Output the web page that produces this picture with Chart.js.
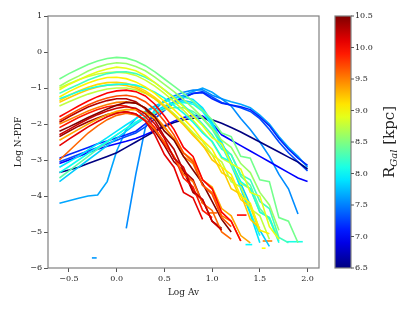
<!DOCTYPE html>
<html>
<head>
<meta charset="utf-8">
<script src="https://cdn.jsdelivr.net/npm/chart.js@4.4.1/dist/chart.umd.min.js"></script>
<style>
  html, body { margin: 0; padding: 0; background: #fff; }
  #wrap { width: 407px; height: 312px; }
</style>
</head>
<body>
<div id="wrap"><canvas id="pdfChart" width="407" height="312"></canvas></div>
<script>
// Log Av grid shared by all the N-PDFs
const logAv = [-0.6, -0.5, -0.4, -0.3, -0.2, -0.1, 0.0, 0.1, 0.2, 0.3, 0.4, 0.5, 0.6,
               0.7, 0.8, 0.9, 1.0, 1.1, 1.2, 1.3, 1.4, 1.5, 1.6, 1.7, 1.8, 1.9, 2.0];

// upper green / yellow clouds
const pdf845 = [-0.75,-0.6,-0.47,-0.35,-0.25,-0.18,-0.15,-0.17,-0.25,-0.38,-0.55,-0.75,-0.95,-1.15,-1.38,-1.62,-1.88,-2.25,-2.35,-2.9,-2.95,-3.55,-3.6,-4.6,-4.7,-5.3];
const pdf860 = [-0.95,-0.8,-0.67,-0.53,-0.42,-0.34,-0.3,-0.32,-0.4,-0.52,-0.7,-0.9,-1.1,-1.32,-1.56,-1.82,-2.12,-2.45,-2.65,-3.1,-3.35,-3.9,-4.25,-4.95];
const pdf890 = [-1.05,-0.9,-0.78,-0.65,-0.55,-0.47,-0.42,-0.45,-0.52,-0.66,-0.85,-1.05,-1.28,-1.52,-1.78,-2.05,-2.38,-2.55,-3.1,-3.25,-3.9,-4.0,-4.85,-5.2];
const pdf825 = [-1.15,-1.02,-0.9,-0.78,-0.68,-0.6,-0.56,-0.55,-0.6,-0.7,-0.85,-1.05,-1.25,-1.48,-1.72,-2.0,-2.3,-2.7,-2.85,-3.4,-3.55,-4.15,-4.35,-5.15,-5.3];
const pdf905 = [-1.25,-1.1,-0.97,-0.86,-0.77,-0.71,-0.7,-0.74,-0.83,-0.97,-1.15,-1.37,-1.6,-1.85,-2.12,-2.45,-2.7,-3.2,-3.4,-4.0,-4.2,-4.95,-5.05];
const pdf810 = [-1.3,-1.2,-1.1,-1.02,-0.96,-0.92,-0.9,-0.89,-0.92,-1.0,-1.12,-1.28,-1.48,-1.7,-1.95,-2.25,-2.48,-2.92,-3.05,-3.6,-3.8,-4.45,-4.6,-5.3];
const pdf920 = [-1.4,-1.27,-1.15,-1.05,-0.97,-0.92,-0.9,-0.93,-1.0,-1.13,-1.3,-1.52,-1.76,-2.02,-2.32,-2.58,-3.0,-3.2,-3.8,-3.95,-4.65,-4.9];
const pdf875 = [-1.5,-1.38,-1.27,-1.17,-1.09,-1.03,-1.0,-1.0,-1.05,-1.15,-1.3,-1.5,-1.72,-1.96,-2.24,-2.48,-2.85,-3.05,-3.6,-3.75,-4.35,-4.55,-5.2];
const pdf880 = [-1.0,-0.88,-0.77,-0.68,-0.61,-0.57,-0.56,-0.58,-0.65,-0.78,-0.95,-1.15,-1.38,-1.62,-1.9,-2.2,-2.5,-2.95,-3.1,-3.65,-3.8,-4.45,-4.6,-5.2];
const pdf915 = [-1.35,-1.2,-1.08,-0.98,-0.9,-0.85,-0.84,-0.87,-0.95,-1.08,-1.26,-1.48,-1.72,-1.98,-2.28,-2.6,-2.85,-3.35,-3.5,-4.1,-4.3,-5.0];

// outer (red / orange) clouds
const pdf1000 = [-1.8,-1.65,-1.5,-1.36,-1.24,-1.14,-1.08,-1.06,-1.1,-1.22,-1.45,-1.78,-2.15,-2.65,-2.9,-3.55,-3.8,-4.45,-4.7,-5.25];
const pdf970 = [-1.9,-1.75,-1.6,-1.47,-1.36,-1.28,-1.22,-1.2,-1.25,-1.38,-1.6,-1.92,-2.3,-2.8,-3.05,-3.7,-3.95,-4.6,-4.85];
const pdf1050 = [-2.2,-2.08,-1.95,-1.82,-1.7,-1.58,-1.48,-1.4,-1.42,-1.55,-1.8,-2.2,-2.45,-2.9,-3.28,-3.65,-4.15,-4.65,-5.0];
const pdf950 = [-2.0,-1.88,-1.76,-1.64,-1.54,-1.46,-1.4,-1.38,-1.42,-1.55,-1.78,-2.08,-2.42,-2.9,-3.1,-3.7,-3.9,-4.55,-4.7,-5.25];
const pdf1020 = [-2.3,-2.15,-2.0,-1.86,-1.74,-1.64,-1.56,-1.52,-1.56,-1.72,-2.0,-2.4,-2.95,-3.2,-3.85,-4.1,-4.7,-4.95];
const pdf935 = [-2.45,-2.3,-2.15,-2.0,-1.86,-1.74,-1.65,-1.6,-1.6,-1.68,-1.85,-2.1,-2.4,-2.8,-3.0,-3.55,-3.75,-4.35,-4.55,-5.1,-5.3];
const pdf1010 = [-2.6,-2.42,-2.25,-2.08,-1.93,-1.8,-1.7,-1.66,-1.72,-1.92,-2.3,-2.85,-3.2,-3.9,-4.05,-4.65];
const pdf960 = [-3.0,-2.75,-2.5,-2.25,-2.05,-1.88,-1.76,-1.7,-1.75,-1.9,-2.15,-2.5,-2.9,-3.4,-3.6,-4.2,-4.4,-5.0,-5.2];
const pdf990 = [-2.1,-1.96,-1.82,-1.7,-1.6,-1.52,-1.48,-1.5,-1.6,-1.8,-2.1,-2.55,-2.9,-3.5,-3.75,-4.4,-4.6];
const pdf1030 = [-1.95,-1.8,-1.66,-1.53,-1.43,-1.35,-1.3,-1.3,-1.38,-1.58,-1.9,-2.35,-2.7,-3.3,-3.55,-4.2];
const pdf1040 = [-2.35,-2.2,-2.06,-1.94,-1.83,-1.74,-1.68,-1.66,-1.72,-1.9,-2.2,-2.6,-3.05,-3.3,-3.9,-4.1,-4.7,-4.9];

// cyan / green clouds peaking at higher Av
const pdf790 = [-3.2,-3.05,-2.9,-2.72,-2.55,-2.38,-2.2,-2.02,-1.85,-1.68,-1.52,-1.38,-1.28,-1.25,-1.32,-1.55,-1.95,-2.5,-3.05,-3.8,-4.5,-5.3];
const pdf805 = [-3.35,-3.18,-3.0,-2.82,-2.65,-2.48,-2.3,-2.12,-1.95,-1.8,-1.66,-1.54,-1.44,-1.4,-1.45,-1.65,-2.05,-2.6,-3.15,-3.75,-4.45,-5.1];
const pdf835 = [-3.5,-3.3,-3.1,-2.9,-2.7,-2.5,-2.3,-2.12,-1.96,-1.82,-1.7,-1.6,-1.54,-1.55,-1.65,-1.85,-2.15,-2.6,-2.85,-3.45,-3.7,-4.35,-4.65,-5.25];
const pdf780 = [-3.6,-3.4,-3.2,-3.0,-2.8,-2.6,-2.4,-2.2,-2.0,-1.82,-1.65,-1.5,-1.4,-1.35,-1.4,-1.6,-2.0,-2.55,-3.05,-3.65,-4.25,-4.95,-5.4];

// inner (blue) clouds
const pdf650 = [-3.35,-3.28,-3.2,-3.1,-3.0,-2.9,-2.8,-2.65,-2.5,-2.35,-2.2,-2.07,-1.96,-1.88,-1.84,-1.84,-1.88,-1.98,-2.1,-2.22,-2.36,-2.5,-2.64,-2.78,-2.92,-3.06,-3.25];
const pdf700 = [-3.1,-3.0,-2.9,-2.8,-2.7,-2.62,-2.55,-2.48,-2.4,-2.3,-2.18,-2.05,-1.92,-1.82,-1.76,-1.78,-1.98,-2.3,-2.45,-2.6,-2.75,-2.9,-3.05,-3.2,-3.35,-3.5,-3.6];
const pdf715 = [-2.95,-2.85,-2.75,-2.65,-2.55,-2.47,-2.38,-2.3,-2.2,-2.0,-1.75,-1.55,-1.38,-1.25,-1.15,-1.13,-1.3,-1.42,-1.47,-1.52,-1.6,-1.8,-2.05,-2.4,-2.7,-2.95,-3.15];
const pdf730 = [-3.05,-2.95,-2.85,-2.75,-2.65,-2.55,-2.45,-2.35,-2.25,-2.08,-1.85,-1.62,-1.42,-1.27,-1.15,-1.1,-1.25,-1.4,-1.48,-1.55,-1.65,-1.85,-2.15,-2.5,-2.8,-3.05,-3.3];
const pdf755 = [null,null,null,null,null,null,null,-4.9,-3.4,-2.1,-1.6,-1.35,-1.22,-1.12,-1.06,-1.05,-1.2,-1.3,-1.5,-1.85,-2.15,-2.5,-2.9,-3.4,-3.8,-4.5];
const pdf765 = [-4.2,-4.13,-4.06,-4.0,-3.97,-3.6,-2.75,-2.15,-1.85,-1.65,-1.5,-1.38,-1.28,-1.2,-1.1,-1.0,-1.12,-1.3,-1.38,-1.45,-1.55,-1.75,-2.0,-2.35,-2.65,-2.9,-3.2];

// galactocentric radius of each cloud [kpc]
const radii = [8.45, 8.6, 8.9, 8.25, 9.05, 8.1, 9.2, 8.75, 8.8, 9.15,
               10.0, 9.7, 10.5, 9.5, 10.2, 9.35, 10.1, 9.6, 9.9, 10.3, 10.4,
               7.9, 8.05, 8.35, 7.8,
               6.5, 7.0, 7.15, 7.3, 7.55, 7.65];
const profiles = [pdf845, pdf860, pdf890, pdf825, pdf905, pdf810, pdf920, pdf875, pdf880, pdf915,
                  pdf1000, pdf970, pdf1050, pdf950, pdf1020, pdf935, pdf1010, pdf960, pdf990, pdf1030, pdf1040,
                  pdf790, pdf805, pdf835, pdf780,
                  pdf650, pdf700, pdf715, pdf730, pdf755, pdf765];

// isolated single-bin bits in the low tails: [logAv start, logAv end, logN, R]
const tailBins = [[-0.26,-0.21,-5.72,7.6], [0.96,1.05,-4.47,9.6], [1.26,1.36,-4.53,10.0],
                  [1.53,1.63,-5.25,9.5], [1.78,1.95,-5.27,8.1], [1.52,1.56,-5.45,9.0], [1.35,1.42,-5.35,8.0]];

const xTicks = [-0.5, 0.0, 0.5, 1.0, 1.5, 2.0];
const yTicks = [-6, -5, -4, -3, -2, -1, 0, 1];
const cbTicks = [6.5, 7.0, 7.5, 8.0, 8.5, 9.0, 9.5, 10.0, 10.5];
const rMin = 6.5, rMax = 10.5;

function clamp(v) { return Math.max(0, Math.min(1, v)); }
function jet(t) {
    const r = clamp(1.5 - Math.abs(4 * t - 3));
    const g = clamp(1.5 - Math.abs(4 * t - 2));
    const b = clamp(1.5 - Math.abs(4 * t - 1));
    return 'rgb(' + Math.round(r * 255) + ',' + Math.round(g * 255) + ',' + Math.round(b * 255) + ')';
}
function colorFor(r) { return jet((r - rMin) / (rMax - rMin)); }
const minus = s => String(s).replace('-', '\u2212');

const datasets = profiles.map((ys, i) => ({
    data: ys.map((y, k) => ({ x: logAv[k], y: y })),
    borderColor: colorFor(radii[i]),
    borderWidth: 1.6,
    pointRadius: 0,
    tension: 0,
    spanGaps: false
}));
tailBins.forEach(b => datasets.push({
    data: [{ x: b[0], y: b[2] }, { x: b[1], y: b[2] }],
    borderColor: colorFor(b[3]),
    borderWidth: 1.6,
    pointRadius: 0
}));

// frame around the plot plus the colour bar on the right
const frameAndColorbar = {
    id: 'frameAndColorbar',
    afterDraw(chart) {
        const ctx = chart.ctx;
        const a = chart.chartArea;
        ctx.save();
        ctx.strokeStyle = '#808080';
        ctx.lineWidth = 1.2;
        ctx.strokeRect(a.left, a.top, a.right - a.left, a.bottom - a.top);

        const x0 = 335, w = 16, top = a.top, bot = a.bottom;
        const grad = ctx.createLinearGradient(0, bot, 0, top);
        for (let i = 0; i <= 20; i++) grad.addColorStop(i / 20, jet(i / 20));
        ctx.fillStyle = grad;
        ctx.fillRect(x0, top, w, bot - top);
        ctx.strokeRect(x0, top, w, bot - top);

        ctx.fillStyle = '#222';
        ctx.strokeStyle = '#555';
        ctx.lineWidth = 1;
        ctx.font = '8px "DejaVu Serif"';
        ctx.textBaseline = 'middle';
        ctx.textAlign = 'left';
        cbTicks.forEach(v => {
            const y = bot - (v - rMin) / (rMax - rMin) * (bot - top);
            ctx.beginPath();
            ctx.moveTo(x0 + w, y);
            ctx.lineTo(x0 + w + 3, y);
            ctx.stroke();
            ctx.fillText(v.toFixed(1), x0 + w + 4, y);
        });

        // colour bar title
        ctx.translate(389, (top + bot) / 2);
        ctx.rotate(-Math.PI / 2);
        ctx.textBaseline = 'alphabetic';
        const big = '15px "DejaVu Serif"', small = 'italic 10px "DejaVu Serif"';
        ctx.font = big; const wR = ctx.measureText('R').width;
        ctx.font = small; const wG = ctx.measureText('Gal').width;
        ctx.font = big; const wK = ctx.measureText(' [kpc]').width;
        let x = -(wR + wG + wK) / 2;
        ctx.font = big; ctx.fillText('R', x, 5); x += wR;
        ctx.font = small; ctx.fillText('Gal', x, 8); x += wG;
        ctx.font = big; ctx.fillText(' [kpc]', x, 5);
        ctx.restore();
    }
};

new Chart(document.getElementById('pdfChart').getContext('2d'), {
    type: 'line',
    data: { datasets: datasets },
    options: {
        responsive: false,
        animation: false,
        layout: { padding: { left: 13, top: 16, right: 88, bottom: 14 } },
        plugins: { legend: { display: false }, tooltip: { enabled: false } },
        scales: {
            x: {
                type: 'linear',
                min: -0.72,
                max: 2.12,
                afterFit: s => { s.height = 30; },
                afterBuildTicks: s => { s.ticks = xTicks.map(v => ({ value: v })); },
                grid: { display: true, drawOnChartArea: false, drawTicks: true, tickLength: 4, color: '#555' },
                border: { display: false },
                ticks: {
                    padding: 2,
                    color: '#222',
                    font: { family: 'DejaVu Serif', size: 8 },
                    callback: v => minus(v.toFixed(1))
                },
                title: { display: true, text: 'Log Av', color: '#222', padding: 0,
                         font: { family: 'DejaVu Serif', size: 9 } }
            },
            y: {
                min: -6,
                max: 1,
                afterFit: s => { s.width = 35; },
                afterBuildTicks: s => { s.ticks = yTicks.map(v => ({ value: v })); },
                grid: { display: true, drawOnChartArea: false, drawTicks: true, tickLength: 4, color: '#555' },
                border: { display: false },
                ticks: {
                    padding: 2,
                    color: '#222',
                    font: { family: 'DejaVu Serif', size: 8 },
                    callback: v => minus(v)
                },
                title: { display: true, text: 'Log N-PDF', color: '#222', padding: 0,
                         font: { family: 'DejaVu Serif', size: 9 } }
            }
        }
    },
    plugins: [frameAndColorbar]
});
</script>
</body>
</html>
